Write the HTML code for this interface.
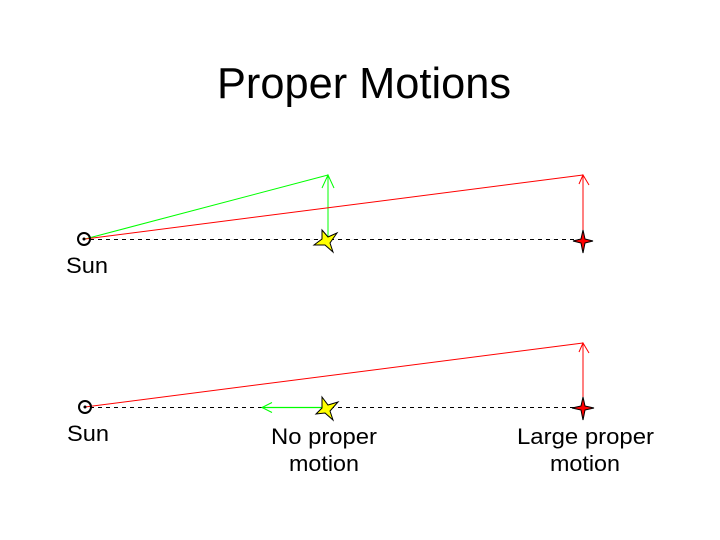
<!DOCTYPE html>
<html><head><meta charset="utf-8"><style>html,body{margin:0;padding:0;background:#fff}svg{display:block}</style></head>
<body>
<svg width="720" height="540" viewBox="0 0 720 540" xmlns="http://www.w3.org/2000/svg" font-family="Liberation Sans, sans-serif">
<rect width="720" height="540" fill="#fff"/>
<text x="217" y="98" font-size="44" textLength="294" lengthAdjust="spacingAndGlyphs">Proper Motions</text>

<!-- top -->
<line x1="90" y1="239.5" x2="583" y2="239.5" stroke="#000" stroke-dasharray="4,4" stroke-width="1"/>
<line x1="85" y1="239" x2="328" y2="175" stroke="#00ff00"/>
<line x1="328" y1="239" x2="328" y2="175" stroke="#00ff00"/>
<polyline points="322,188 328,175 334,188" fill="none" stroke="#00ff00"/>
<line x1="85" y1="239" x2="583" y2="175" stroke="#ff0000"/>
<line x1="583" y1="239" x2="583" y2="175" stroke="#ff0000"/>
<polyline points="579,184 583,175 589,185" fill="none" stroke="#ff0000"/>
<circle cx="84" cy="239" r="6" fill="none" stroke="#000" stroke-width="2"/>
<circle cx="84" cy="239" r="1.5" fill="#000"/>
<text x="66" y="273" font-size="22" textLength="42" lengthAdjust="spacingAndGlyphs">Sun</text>
<polygon points="322,230 328,237 337,233 330,243 333,252 325,245 314,245 322,239" fill="#ffff00" stroke="#000" stroke-width="1"/>
<polygon points="583,230 585,239 593,241 585,243 583,253 581,243 573,241 581,239" fill="#ff0000" stroke="#000" stroke-width="1"/>

<!-- bottom -->
<line x1="90" y1="407.5" x2="583" y2="407.5" stroke="#000" stroke-dasharray="4,4" stroke-width="1"/>
<line x1="85" y1="407" x2="583" y2="343" stroke="#ff0000"/>
<line x1="583" y1="407" x2="583" y2="343" stroke="#ff0000"/>
<polyline points="579,352 583,343 589,353" fill="none" stroke="#ff0000"/>
<line x1="326" y1="407.5" x2="262" y2="407.5" stroke="#00ff00" stroke-width="1.2"/>
<polyline points="272,402.5 262,407.5 272,412.5" fill="none" stroke="#00ff00"/>
<circle cx="85" cy="407" r="6" fill="none" stroke="#000" stroke-width="2"/>
<circle cx="85" cy="407" r="1.5" fill="#000"/>
<text x="67" y="441" font-size="22" textLength="42" lengthAdjust="spacingAndGlyphs">Sun</text>
<polygon points="322,397 328,405 338,402 330,411 333,420 325,413 316,414 322,408" fill="#ffff00" stroke="#000" stroke-width="1"/>
<polygon points="583,397 585,406 594,408 585,410 583,420 581,410 572,408 581,406" fill="#ff0000" stroke="#000" stroke-width="1"/>

<text x="271" y="444" font-size="22" textLength="106" lengthAdjust="spacingAndGlyphs">No proper</text>
<text x="289" y="471" font-size="22" textLength="70" lengthAdjust="spacingAndGlyphs">motion</text>
<text x="517" y="444" font-size="22" textLength="137" lengthAdjust="spacingAndGlyphs">Large proper</text>
<text x="550" y="471" font-size="22" textLength="70" lengthAdjust="spacingAndGlyphs">motion</text>
</svg>
</body></html>
